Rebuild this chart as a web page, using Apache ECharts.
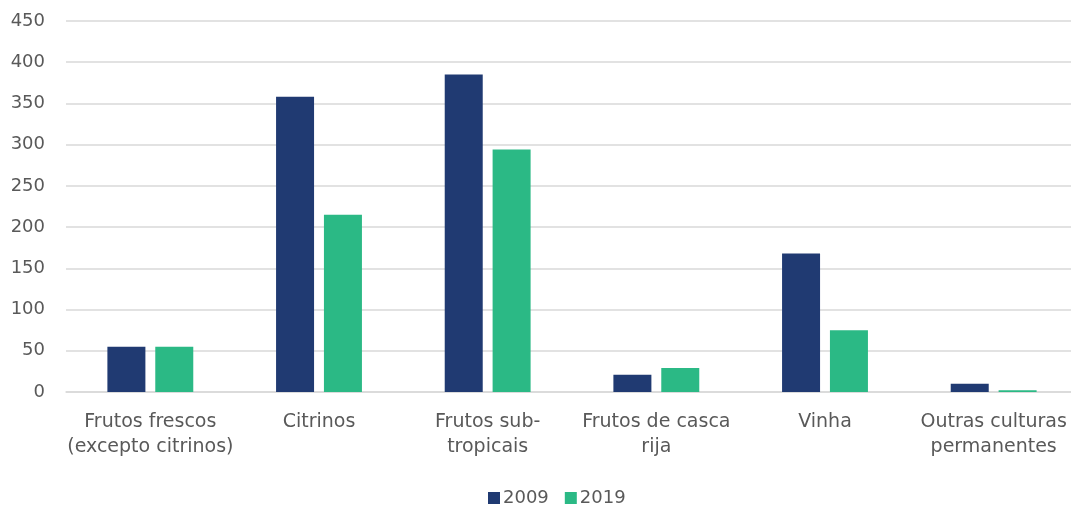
<!DOCTYPE html>
<html>
<head>
<meta charset="utf-8">
<script src="https://cdn.jsdelivr.net/npm/echarts@6/dist/echarts.min.js"></script>
<style>
  html, body { margin: 0; padding: 0; background: #fff; }
  #chart { width: 1071px; height: 505px; }
</style>
</head>
<body>
<div id="chart"></div>
<script>
let categories = [
  "Frutos frescos\n(excepto citrinos)",
  "Citrinos",
  "Frutos sub-\ntropicais",
  "Frutos de casca\nrija",
  "Vinha",
  "Outras culturas\npermanentes",
];
let values2009 = [55, 358, 385, 21, 168, 10];
let values2019 = [55, 215, 294, 29, 75, 2];
let yTicks = { min: 0, max: 450, interval: 50 };

let textColor = "#595959";
let font = "DejaVu Sans";

let myChart = echarts.init(document.getElementById("chart"));
let option = {
  animation: false,
  color: ["#203a72", "#2bb985"],
  textStyle: { fontFamily: font },
  grid: { left: 66, width: 1012, top: 21, height: 371, outerBoundsMode: "none" },
  legend: {
    top: 484,
    left: 483,
    itemWidth: 12,
    itemHeight: 12,
    itemGap: 16,
    icon: "rect",
    textStyle: { color: textColor, fontSize: 18, fontFamily: font, padding: [0, 0, 0, -2] },
    data: ["2009", "2019"],
  },
  xAxis: {
    type: "category",
    data: categories,
    axisLine: { lineStyle: { color: "#d9d9d9", width: 1.5 } },
    axisTick: { show: false },
    axisLabel: {
      color: textColor,
      fontSize: 19,
      lineHeight: 25,
      margin: 18,
      interval: 0,
      fontFamily: font,
    },
  },
  yAxis: {
    type: "value",
    min: yTicks.min,
    max: yTicks.max,
    interval: yTicks.interval,
    axisLine: { show: false },
    axisTick: { show: false },
    splitLine: { lineStyle: { color: "#d9d9d9", width: 1.5 } },
    axisLabel: { color: textColor, fontSize: 18, margin: 21, fontFamily: font },
  },
  series: [
    { name: "2009", type: "bar", data: values2009, barWidth: 38, barGap: "26%" },
    { name: "2019", type: "bar", data: values2019, barWidth: 38, barGap: "26%" },
  ],
};
myChart.setOption(option);
</script>
</body>
</html>
